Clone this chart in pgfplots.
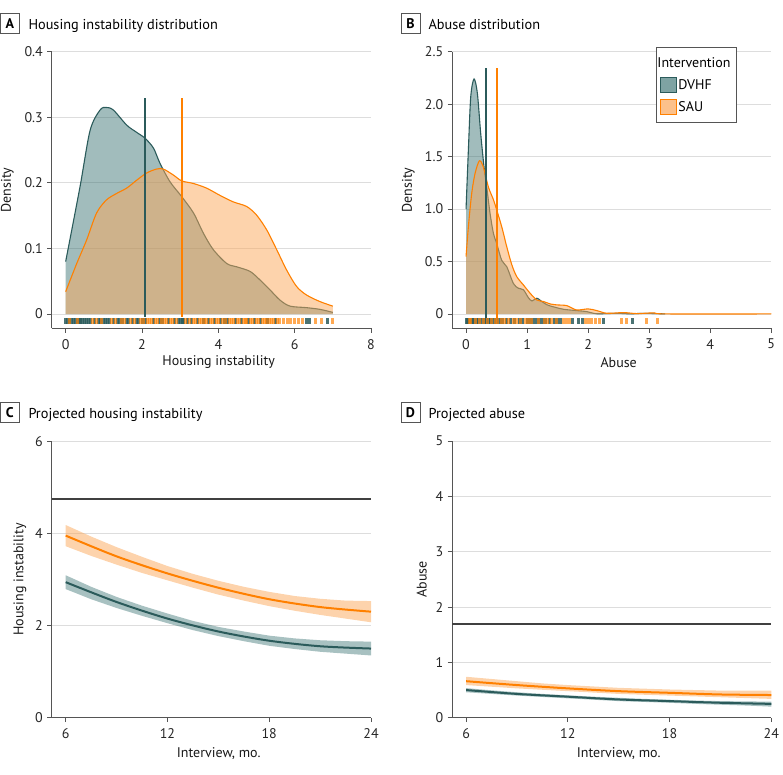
\documentclass[border=0pt]{standalone}
\usepackage{fontspec}
\setmainfont{PT Sans}
\usepackage{pgfplots}
\pgfplotsset{compat=1.18}
\pgfdeclareplotmark{rug}{\pgfpathrectangle{\pgfqpoint{-1.5pt}{-2.9pt}}{\pgfqpoint{3pt}{5.8pt}}\pgfusepathqfill}
\definecolor{tealline}{HTML}{2B5B5B}
\definecolor{tealfill}{HTML}{2F6B6B}
\definecolor{orline}{HTML}{FF8000}
\definecolor{orfill}{HTML}{FBA85A}
\definecolor{gridc}{HTML}{DDDDDD}
\definecolor{axc}{HTML}{555555}
\definecolor{refc}{HTML}{404040}
\newcommand{\tfont}{\fontsize{14}{16}\selectfont}
\pgfplotsset{
  jstyle/.style={
    scale only axis, width=319.3pt, height=276.6pt,
    axis x line*=bottom, axis y line*=left,
    axis line style={axc, line width=0.8pt, -},
    tick style={axc, line width=0.8pt},
    tick align=outside, major tick length=4.3pt,
    ymajorgrids, grid style={gridc, line width=0.8pt},
    tick label style={font=\tfont, text=black!85},
    label style={font=\tfont, text=black!90},
    xticklabel style={yshift=-3pt},
    yticklabel style={xshift=-1pt},
    minor tick num=0,
  },
  rugT/.style={only marks, mark=rug, color=tealline, mark options={draw=none, fill=tealline, fill opacity=0.85}},
  rugO/.style={only marks, mark=rug, color=orline, mark options={draw=none, fill=orline, fill opacity=0.68}},
  swatch/.style={legend image code/.code={\draw[##1, line width=0.8pt] (0pt,-7.5pt) rectangle (16pt,7.5pt);}},
}
\begin{document}
\begin{tikzpicture}
\path[use as bounding box] (0,0) rectangle (783pt,774pt);

% ---------- titles ----------
\node[draw=axc, line width=0.8pt, minimum width=19pt, minimum height=20pt, inner sep=0pt, font=\fontsize{14}{16}\selectfont\bfseries] at (9.8pt,750.7pt) {A};
\node[anchor=base west, inner sep=0pt, font=\fontsize{14.3}{17}\selectfont] at (28.3pt,744.7pt) {Housing instability distribution};
\node[draw=axc, line width=0.8pt, minimum width=19pt, minimum height=20pt, inner sep=0pt, font=\fontsize{14}{16}\selectfont\bfseries] at (410.4pt,750.7pt) {B};
\node[anchor=base west, inner sep=0pt, font=\fontsize{14.3}{17}\selectfont] at (428.3pt,744.7pt) {Abuse distribution};
\node[draw=axc, line width=0.8pt, minimum width=19pt, minimum height=20pt, inner sep=0pt, font=\fontsize{14}{16}\selectfont\bfseries] at (9.8pt,361.3pt) {C};
\node[anchor=base west, inner sep=0pt, font=\fontsize{14.3}{17}\selectfont] at (28.3pt,355.7pt) {Projected housing instability};
\node[draw=axc, line width=0.8pt, minimum width=19pt, minimum height=20pt, inner sep=0pt, font=\fontsize{14}{16}\selectfont\bfseries] at (410.4pt,361.3pt) {D};
\node[anchor=base west, inner sep=0pt, font=\fontsize{14.3}{17}\selectfont] at (428.3pt,355.7pt) {Projected abuse};

% ---------- Panel A ----------
\begin{axis}[jstyle, at={(51.7pt,445.7pt)}, anchor=south west,
  xmin=-0.366, xmax=8, ymin=-0.0218, ymax=0.4,
  xtick={0,2,4,6,8}, xticklabels={0,2,4,6,8},
  ytick={0,0.1,0.2,0.3,0.4}, yticklabels={0,0.1,0.2,0.3,0.4},
  xlabel={Housing instability}, ylabel={Density},
  xlabel style={at={(axis description cs:0.523,0)}, anchor=center, yshift=-34pt},
  ylabel style={at={(axis description cs:-0.139,0.5)}, anchor=center},
]
\addplot[fill=tealfill, fill opacity=0.45, draw=none, smooth, tension=0.5] coordinates {
(0,0.080)(0.376,0.194)(0.64,0.28)(0.90,0.311)(1.06,0.315)(1.25,0.311)(1.6,0.288)(1.86,0.277)(2.08,0.268)(2.30,0.253)(2.47,0.23)(2.73,0.202)(3.04,0.179)(3.35,0.154)(3.61,0.123)(3.87,0.098)(4.22,0.077)(4.48,0.072)(4.83,0.065)(5.09,0.052)(5.35,0.037)(5.62,0.021)(5.88,0.012)(6.31,0.0097)(6.66,0.0071)(7.0,0.0025)} \closedcycle;
\addplot[tealline, line width=1.1pt, smooth, tension=0.5] coordinates {
(0,0.080)(0.376,0.194)(0.64,0.28)(0.90,0.311)(1.06,0.315)(1.25,0.311)(1.6,0.288)(1.86,0.277)(2.08,0.268)(2.30,0.253)(2.47,0.23)(2.73,0.202)(3.04,0.179)(3.35,0.154)(3.61,0.123)(3.87,0.098)(4.22,0.077)(4.48,0.072)(4.83,0.065)(5.09,0.052)(5.35,0.037)(5.62,0.021)(5.88,0.012)(6.31,0.0097)(6.66,0.0071)(7.0,0.0025)};
\addplot[fill=orfill, fill opacity=0.5, draw=none, smooth, tension=0.5] coordinates {
(0,0.034)(0.29,0.077)(0.55,0.113)(0.81,0.154)(1.07,0.174)(1.34,0.184)(1.60,0.192)(1.86,0.204)(2.12,0.215)(2.38,0.221)(2.56,0.221)(2.82,0.212)(3.04,0.203)(3.35,0.199)(3.69,0.192)(4.04,0.181)(4.39,0.171)(4.74,0.164)(5.0,0.151)(5.27,0.128)(5.53,0.098)(5.79,0.067)(6.05,0.042)(6.31,0.029)(6.66,0.019)(7.0,0.012)} \closedcycle;
\addplot[orline, line width=1.1pt, smooth, tension=0.5] coordinates {
(0,0.034)(0.29,0.077)(0.55,0.113)(0.81,0.154)(1.07,0.174)(1.34,0.184)(1.60,0.192)(1.86,0.204)(2.12,0.215)(2.38,0.221)(2.56,0.221)(2.82,0.212)(3.04,0.203)(3.35,0.199)(3.69,0.192)(4.04,0.181)(4.39,0.171)(4.74,0.164)(5.0,0.151)(5.27,0.128)(5.53,0.098)(5.79,0.067)(6.05,0.042)(6.31,0.029)(6.66,0.019)(7.0,0.012)};
\addplot[rugT] table[row sep=\\, y expr=-0.0109] {x\\0\\0.05\\0.1\\0.15\\0.2\\0.25\\0.3\\0.35\\0.4\\0.45\\0.5\\0.55\\0.6\\0.65\\0.75\\0.85\\0.9\\1.0\\1.05\\1.1\\1.15\\1.25\\1.35\\1.4\\1.5\\1.6\\1.65\\1.75\\1.85\\1.9\\2.0\\2.1\\2.3\\2.45\\2.55\\2.7\\2.85\\2.95\\3.0\\3.05\\3.1\\3.2\\3.3\\3.45\\3.6\\3.75\\3.9\\4.05\\4.15\\4.25\\4.45\\4.6\\4.8\\4.95\\5.1\\5.3\\5.5\\6.3\\6.4\\6.85\\};
\addplot[rugO] table[row sep=\\, y expr=-0.0109] {x\\0.1\\0.3\\0.7\\0.8\\0.95\\1.2\\1.3\\1.45\\1.55\\1.7\\1.8\\1.95\\2.05\\2.15\\2.2\\2.25\\2.35\\2.4\\2.5\\2.6\\2.65\\2.75\\2.8\\2.9\\3.15\\3.25\\3.35\\3.4\\3.5\\3.55\\3.65\\3.7\\3.8\\3.85\\3.95\\4.0\\4.1\\4.2\\4.3\\4.35\\4.4\\4.5\\4.55\\4.65\\4.7\\4.75\\4.85\\4.9\\5.0\\5.05\\5.15\\5.2\\5.25\\5.35\\5.4\\5.45\\5.55\\5.6\\5.7\\5.8\\5.9\\6.0\\6.1\\6.2\\6.55\\6.7\\7.0\\};
\addplot[tealline, line width=2pt] coordinates {(2.08,-0.004)(2.08,0.33)};
\addplot[orline, line width=2pt] coordinates {(3.04,-0.004)(3.04,0.33)};
\end{axis}

% ---------- Panel B ----------
\begin{axis}[jstyle, at={(452pt,445.7pt)}, anchor=south west,
  xmin=-0.23, xmax=5, ymin=-0.137, ymax=2.5,
  xtick={0,1,2,3,4,5}, xticklabels={0,1,2,3,4,5},
  ytick={0,0.5,1,1.5,2,2.5}, yticklabels={0,0.5,1.0,1.5,2.0,2.5},
  xlabel={Abuse}, ylabel={Density},
  xlabel style={at={(axis description cs:0.522,0)}, anchor=center, yshift=-34pt},
  ylabel style={at={(axis description cs:-0.137,0.5)}, anchor=center},
  legend style={at={(0.638,1.016)}, anchor=north west, draw=axc, line width=0.8pt,
     font=\tfont, inner xsep=3.5pt, inner ysep=7.5pt, row sep=6.5pt},
  legend cell align=left,
]
\addlegendimage{empty legend}
\addlegendentry{\hspace*{-21pt}Intervention}
\addlegendimage{swatch, fill=tealfill, fill opacity=0.62, draw=tealline}
\addlegendentry{DVHF}
\addlegendimage{swatch, fill=orfill, fill opacity=0.7, draw=orline}
\addlegendentry{SAU}
\addplot[fill=tealfill, fill opacity=0.45, draw=none, smooth, tension=0.5] coordinates {
(0,1.0)(0.038,1.56)(0.077,2.07)(0.131,2.24)(0.186,2.10)(0.24,1.72)(0.295,1.40)(0.339,1.21)(0.393,0.96)(0.448,0.77)(0.503,0.67)(0.585,0.51)(0.667,0.45)(0.776,0.29)(0.858,0.245)(0.94,0.23)(1.02,0.156)(1.08,0.124)(1.16,0.15)(1.22,0.127)(1.33,0.086)(1.45,0.065)(1.6,0.044)(1.81,0.032)(1.98,0.022)(2.14,0.002)(2.47,0.006)(2.69,0.001)(2.9,0.006)(3.13,0.003)(3.26,0)} \closedcycle;
\addplot[tealline, line width=1.1pt, smooth, tension=0.5] coordinates {
(0,1.0)(0.038,1.56)(0.077,2.07)(0.131,2.24)(0.186,2.10)(0.24,1.72)(0.295,1.40)(0.339,1.21)(0.393,0.96)(0.448,0.77)(0.503,0.67)(0.585,0.51)(0.667,0.45)(0.776,0.29)(0.858,0.245)(0.94,0.23)(1.02,0.156)(1.08,0.124)(1.16,0.15)(1.22,0.127)(1.33,0.086)(1.45,0.065)(1.6,0.044)(1.81,0.032)(1.98,0.022)(2.14,0.002)(2.47,0.006)(2.69,0.001)(2.9,0.006)(3.13,0.003)(3.26,0)};
\addplot[fill=orfill, fill opacity=0.5, draw=none, smooth, tension=0.5] coordinates {
(0,0.546)(0.038,0.83)(0.093,1.15)(0.148,1.34)(0.219,1.46)(0.284,1.40)(0.366,1.21)(0.448,1.09)(0.503,0.99)(0.585,0.83)(0.667,0.64)(0.749,0.47)(0.83,0.356)(0.94,0.276)(1.05,0.197)(1.16,0.133)(1.27,0.118)(1.38,0.095)(1.49,0.086)(1.65,0.079)(1.81,0.038)(2.0,0.048)(2.14,0.032)(2.31,0.006)(2.58,0.013)(2.8,0.003)(3.07,0.01)(3.29,0)(5,0)} \closedcycle;
\addplot[orline, line width=1.1pt, smooth, tension=0.5] coordinates {
(0,0.546)(0.038,0.83)(0.093,1.15)(0.148,1.34)(0.219,1.46)(0.284,1.40)(0.366,1.21)(0.448,1.09)(0.503,0.99)(0.585,0.83)(0.667,0.64)(0.749,0.47)(0.83,0.356)(0.94,0.276)(1.05,0.197)(1.16,0.133)(1.27,0.118)(1.38,0.095)(1.49,0.086)(1.65,0.079)(1.81,0.038)(2.0,0.048)(2.14,0.032)(2.31,0.006)(2.58,0.013)(2.8,0.003)(3.07,0.01)(3.29,0)(5,0)};
\addplot[rugT] table[row sep=\\, y expr=-0.0695] {x\\0\\0.03\\0.06\\0.1\\0.13\\0.17\\0.2\\0.25\\0.3\\0.33\\0.37\\0.4\\0.45\\0.5\\0.55\\0.6\\0.67\\0.73\\0.8\\0.87\\0.93\\1.0\\1.05\\1.1\\1.15\\1.2\\1.25\\1.3\\1.37\\1.45\\1.5\\1.55\\1.75\\1.85\\1.9\\2.25\\2.72\\};
\addplot[rugO] table[row sep=\\, y expr=-0.0695] {x\\0.05\\0.08\\0.15\\0.22\\0.28\\0.35\\0.42\\0.48\\0.52\\0.58\\0.63\\0.7\\0.77\\0.83\\0.9\\0.97\\1.02\\1.08\\1.18\\1.28\\1.33\\1.4\\1.48\\1.6\\1.65\\1.7\\1.95\\2.0\\2.05\\2.12\\2.18\\2.55\\2.62\\2.95\\3.13\\};
\addplot[tealline, line width=2pt] coordinates {(0.333,-0.04)(0.333,2.34)};
\addplot[orline, line width=2pt] coordinates {(0.503,-0.04)(0.503,2.34)};
\end{axis}

% ---------- Panel C ----------
\begin{axis}[jstyle, at={(51.7pt,56.3pt)}, anchor=south west,
  xmin=5.175, xmax=24, ymin=0, ymax=6,
  xtick={6,12,18,24}, xticklabels={6,12,18,24},
  ytick={0,2,4,6}, yticklabels={0,2,4,6},
  xlabel={Interview, mo.}, ylabel={Housing instability},
  xlabel style={at={(axis description cs:0.523,0)}, anchor=center, yshift=-36.3pt},
  ylabel style={at={(axis description cs:-0.0993,0.5)}, anchor=center},
]
\addplot[refc, line width=1.6pt] coordinates {(5.175,4.75)(24,4.75)};
\addplot[fill=orfill, fill opacity=0.5, draw=none] coordinates {
(6,4.18)(7.5,3.93)(9,3.70)(10.5,3.49)(12,3.29)(13.5,3.12)(15,2.97)(16.5,2.84)(18,2.73)(19.5,2.64)(21,2.58)(22.5,2.54)(24,2.53)
(24,2.07)(22.5,2.15)(21,2.23)(19.5,2.32)(18,2.42)(16.5,2.54)(15,2.67)(13.5,2.82)(12,2.98)(10.5,3.14)(9,3.32)(7.5,3.51)(6,3.72)};
\addplot[fill=tealfill, fill opacity=0.42, draw=none] coordinates {
(6,3.09)(7.5,2.84)(9,2.62)(10.5,2.43)(12,2.26)(13.5,2.10)(15,1.97)(16.5,1.87)(18,1.78)(19.5,1.72)(21,1.68)(22.5,1.66)(24,1.65)
(24,1.35)(22.5,1.39)(21,1.43)(19.5,1.49)(18,1.56)(16.5,1.66)(15,1.77)(13.5,1.90)(12,2.05)(10.5,2.21)(9,2.38)(7.5,2.57)(6,2.79)};
\addplot[orline, line width=2pt, smooth] coordinates {(6,3.95)(9,3.50)(12,3.13)(15,2.82)(18,2.57)(21,2.40)(24,2.30)};
\addplot[tealline, line width=2pt, smooth] coordinates {(6,2.94)(9,2.51)(12,2.15)(15,1.87)(18,1.67)(21,1.55)(24,1.50)};
\end{axis}

% ---------- Panel D ----------
\begin{axis}[jstyle, at={(452pt,56.3pt)}, anchor=south west,
  xmin=5.17, xmax=24, ymin=0, ymax=5,
  xtick={6,12,18,24}, xticklabels={6,12,18,24},
  ytick={0,1,2,3,4,5}, yticklabels={0,1,2,3,4,5},
  xlabel={Interview, mo.}, ylabel={Abuse},
  xlabel style={at={(axis description cs:0.522,0)}, anchor=center, yshift=-36.3pt},
  ylabel style={at={(axis description cs:-0.0949,0.5)}, anchor=center},
]
\addplot[refc, line width=1.6pt] coordinates {(5.17,1.69)(24,1.69)};
\addplot[fill=orfill, fill opacity=0.5, draw=none] coordinates {
(6,0.74)(7.5,0.70)(9,0.66)(10.5,0.62)(12,0.59)(13.5,0.565)(15,0.54)(16.5,0.525)(18,0.51)(19.5,0.50)(21,0.49)(22.5,0.49)(24,0.49)
(24,0.34)(22.5,0.355)(21,0.37)(19.5,0.385)(18,0.40)(16.5,0.415)(15,0.43)(13.5,0.455)(12,0.48)(10.5,0.505)(9,0.53)(7.5,0.56)(6,0.59)};
\addplot[fill=tealfill, fill opacity=0.42, draw=none] coordinates {
(6,0.535)(7.5,0.495)(9,0.46)(10.5,0.43)(12,0.405)(13.5,0.38)(15,0.36)(16.5,0.34)(18,0.325)(19.5,0.31)(21,0.30)(22.5,0.295)(24,0.29)
(24,0.20)(22.5,0.22)(21,0.235)(19.5,0.25)(18,0.27)(16.5,0.285)(15,0.30)(13.5,0.325)(12,0.35)(10.5,0.375)(9,0.40)(7.5,0.43)(6,0.46)};
\addplot[orline, line width=2pt, smooth] coordinates {(6,0.66)(9,0.59)(12,0.53)(15,0.48)(18,0.45)(21,0.42)(24,0.41)};
\addplot[tealline, line width=2pt, smooth] coordinates {(6,0.50)(9,0.43)(12,0.38)(15,0.33)(18,0.30)(21,0.27)(24,0.25)};
\end{axis}
\end{tikzpicture}
\end{document}
